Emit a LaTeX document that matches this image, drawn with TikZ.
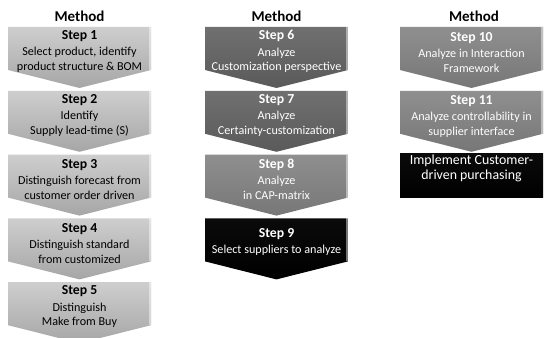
\documentclass[tikz,border=0pt]{standalone}
\usepackage{fontspec}
\setmainfont{Carlito}
\definecolor{lgtop}{HTML}{CECECE}
\definecolor{lgbot}{HTML}{A6A6A6}
\definecolor{dgtop}{HTML}{707070}
\definecolor{dgbot}{HTML}{5A5A5A}
\definecolor{mgtop}{HTML}{8F8F8F}
\definecolor{mgbot}{HTML}{777777}
\definecolor{bktop}{HTML}{0A0A0A}
\definecolor{bkbot}{HTML}{000000}
\newcommand{\chevshape}[3]{%
  \path[#3] (#1,#2) -- ++(143,0) -- ++(0,43) -- ++(-71.5,18) -- ++(-71.5,-18) -- cycle;
  \draw[bevel] ({#1+142.2},#2) -- ++(0,43);
}
\newcommand{\steptitle}[1]{{\fontsize{10.3}{12}\selectfont\bfseries #1}}
\begin{document}
\begin{tikzpicture}[x=0.75pt,y=-0.75pt,
  lightfill/.style={top color=lgtop,bottom color=lgbot},
  darkfill/.style={top color=dgtop,bottom color=dgbot},
  midfill/.style={top color=mgtop,bottom color=mgbot},
  blackfill/.style={top color=bktop,bottom color=bkbot},
  bevel/.style={draw=white,draw opacity=0.45,line width=1.1pt},
  head/.style={font=\fontsize{11.25}{13}\selectfont\bfseries,text=black},
  steptext/.style={align=center,inner sep=0pt,font=\fontsize{9.1}{11}\selectfont},
  impltext/.style={align=center,inner sep=0pt,font=\fontsize{10.4}{10.8}\selectfont,text=white}]
\clip (0,0) rectangle (544,338);
\fill[white] (0,0) rectangle (544,338);
% headings
\node[head] (h1) at (79.5,16) {Method};
\node[head] (h2) at (276.5,16) {Method};
\node[head] (h3) at (474,16) {Method};
% column 1
\chevshape{8}{27}{lightfill}
\chevshape{8}{90.8}{lightfill}
\chevshape{8}{154.6}{lightfill}
\chevshape{8}{218.4}{lightfill}
\chevshape{8}{282.2}{lightfill}
\node[steptext,text=black] (s1) at (79.5,51.5) {\steptitle{Step 1}\\[1.2pt]Select product, identify\\product structure \& BOM};
\node[steptext,text=black] (s2) at (79.5,115.5) {\steptitle{Step 2}\\[1.2pt]Identify\\Supply lead-time (S)};
\node[steptext,text=black] (s3) at (79.5,179.3) {\steptitle{Step 3}\\[1.2pt]Distinguish forecast from\\customer order driven};
\node[steptext,text=black] (s4) at (79.5,243.1) {\steptitle{Step 4}\\[1.2pt]Distinguish standard\\from customized};
\node[steptext,text=black] (s5) at (79.5,306.9) {\steptitle{Step 5}\\[1.2pt]Distinguish\\Make from Buy};
% column 2
\chevshape{205}{27}{darkfill}
\chevshape{205}{90.8}{darkfill}
\chevshape{205}{154.6}{midfill}
\chevshape{205}{218.4}{blackfill}
\node[steptext,text=white] (s6) at (276.5,51.5) {\steptitle{Step 6}\\[1.2pt]Analyze\\Customization perspective};
\node[steptext,text=white] (s7) at (276.5,115.5) {\steptitle{Step 7}\\[1.2pt]Analyze\\Certainty-customization};
\node[steptext,text=white] (s8) at (276.5,179.3) {\steptitle{Step 8}\\[1.2pt]Analyze\\in CAP-matrix};
\node[steptext,text=white] (s9) at (276.5,241.9) {\steptitle{Step 9}\\[1.2pt]Select suppliers to analyze};
% column 3
\chevshape{400}{27}{midfill}
\chevshape{400}{90.8}{midfill}
\node[steptext,text=white] (s10) at (471.5,52.5) {\steptitle{Step 10}\\[1.2pt]Analyze in Interaction\\Framework};
\node[steptext,text=white] (s11) at (471.5,116.3) {\steptitle{Step 11}\\[1.2pt]Analyze controllability in\\supplier interface};
\path[blackfill] (400,153.5) rectangle (543,198);
\node[impltext] (impl) at (471.5,168.5) {Implement Customer-\\driven purchasing};
\end{tikzpicture}
\end{document}
